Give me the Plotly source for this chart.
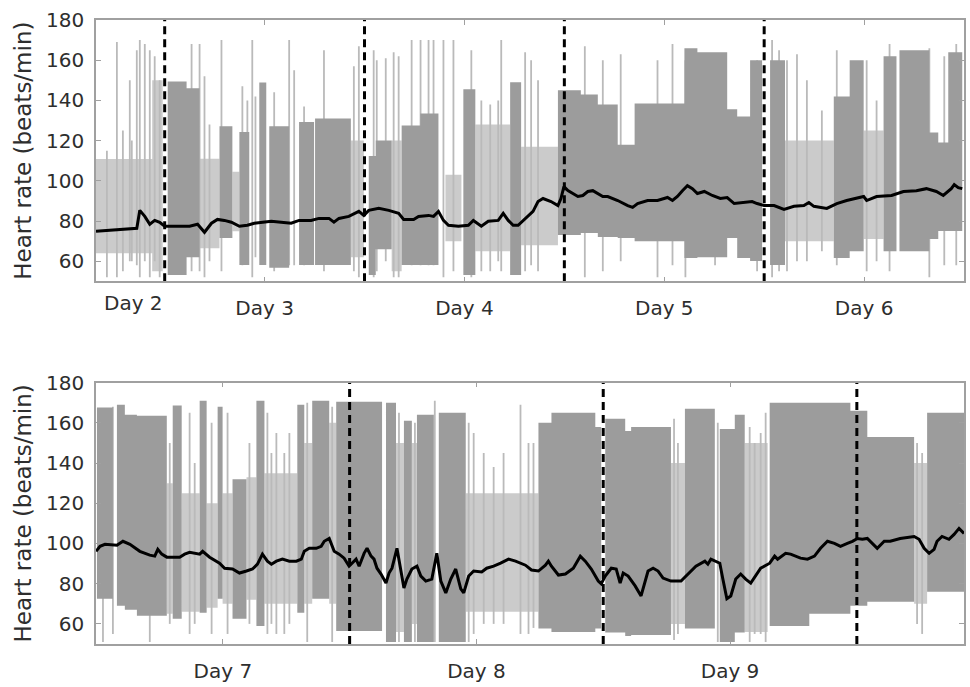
import plotly.graph_objects as go
from plotly.subplots import make_subplots

# ---------------- DATA (time in hours since start of Day 2, heart rate in beats/min) -------------
# Smoothed heart-rate trend, top panel (Days 2-6)
top_smooth_t = [15.75, 17.42, 18.62, 20.65, 21.01, 21.61, 22.21, 22.80, 23.40, 24.0, 25.2, 26.99, 27.95,
                28.78, 29.62, 30.34, 31.17, 32.01, 32.97, 33.93, 34.76, 35.96, 36.80, 37.99, 39.19, 40.14,
                41.58, 42.53, 43.73, 44.33, 44.93, 46.12, 47.32, 47.92, 48.51, 49.71, 50.91, 52.10, 52.70,
                53.90, 54.49, 55.69, 56.29, 56.88, 57.48, 58.08, 59.28, 60.47, 61.07, 62.03, 62.86, 64.06,
                64.66, 65.26, 65.85, 66.45, 67.05, 67.65, 68.24, 68.84, 69.44, 70.40, 71.23, 71.59, 71.95,
                72.43, 73.03, 73.63, 74.22, 74.82, 75.42, 76.02, 76.62, 77.21, 78.41, 79.61, 80.20, 80.80,
                82.00, 83.19, 84.39, 84.99, 85.58, 86.18, 86.78, 87.38, 87.98, 88.81, 89.77, 90.73, 91.56,
                92.40, 93.60, 94.55, 95.15, 95.99, 97.19, 98.38, 99.58, 100.77, 101.37, 101.97, 103.52,
                104.72, 105.91, 107.95, 108.31, 109.50, 111.30, 112.73, 114.28, 115.48, 116.68, 117.51,
                118.47, 118.83, 119.31, 119.79]
top_smooth_hr = [74.9, 75.4, 75.9, 76.4, 85.3, 82.3, 78.4, 80.3, 79.4, 77.4, 77.4, 77.4, 78.4,
                 74.4, 78.9, 80.8, 80.3, 79.4, 77.4, 77.9, 78.9, 79.4, 79.9, 79.4, 78.9, 80.3,
                 80.3, 81.3, 81.3, 79.4, 81.3, 82.3, 84.8, 82.8, 85.3, 86.3, 85.3, 83.8, 80.8,
                 80.8, 82.3, 82.8, 82.3, 84.8, 80.3, 77.9, 77.4, 77.9, 80.3, 77.4, 79.9, 80.3,
                 83.8, 80.3, 77.9, 77.9, 80.3, 82.3, 84.8, 89.7, 91.2, 89.7, 87.7, 91.2, 97.1,
                 95.1, 93.7, 92.2, 92.7, 94.7, 95.1, 93.7, 92.2, 92.2, 90.2, 87.7, 86.8, 88.7,
                 90.2, 90.2, 91.7, 90.2, 92.2, 95.1, 97.6, 96.1, 93.7, 94.7, 92.7, 91.2, 91.7,
                 88.7, 89.2, 89.7, 88.7, 87.7, 87.7, 85.8, 87.3, 87.7, 89.2, 87.3, 86.3,
                 88.7, 90.2, 92.2, 90.2, 92.2, 92.7, 94.7, 95.1, 96.1, 94.7, 92.7,
                 96.1, 98.1, 96.6, 96.1]

# Smoothed heart-rate trend, bottom panel (Days 7-9)
bot_smooth_t = [120.0, 120.38, 120.85, 121.98, 122.55, 123.21, 124.15, 125.09, 125.56, 125.85, 126.22,
                126.70, 127.92, 128.39, 128.86, 129.81, 130.09, 130.75, 131.69, 132.17, 132.92, 133.58,
                134.24, 134.81, 135.28, 135.75, 136.22, 136.60, 137.07, 137.64, 138.30, 138.96, 139.43,
                139.71, 140.18, 140.84, 141.31, 141.60, 142.07, 142.54, 143.01, 143.48, 143.95, 144.24,
                144.61, 144.90, 145.37, 145.65, 146.03, 146.31, 146.59, 146.97, 147.44, 147.73, 148.01,
                148.48, 148.86, 149.14, 149.42, 149.89, 150.37, 150.74, 151.21, 151.78, 152.25, 152.63,
                153.10, 153.57, 154.04, 154.52, 154.80, 155.27, 155.74, 156.50, 156.97, 157.63, 158.29,
                159.04, 159.70, 160.64, 161.21, 161.87, 162.53, 162.81, 163.10, 163.76, 164.42, 165.17,
                165.83, 166.30, 166.87, 167.53, 167.81, 168.19, 168.76, 169.23, 169.60, 169.89, 170.36,
                171.02, 171.58, 172.24, 172.72, 173.19, 173.66, 174.41, 175.36, 176.02, 176.77, 177.62,
                177.90, 178.19, 179.03, 179.32, 179.70, 180.07, 180.54, 181.01, 181.48, 181.96, 182.43,
                182.90, 183.75, 184.22, 184.50, 185.26, 185.73, 186.67, 187.33, 187.99, 188.56, 189.22,
                189.88, 190.45, 191.10, 191.58, 192.05, 192.52, 192.99, 193.46, 193.93, 194.59, 195.16,
                196.10, 197.42, 197.89, 198.37, 198.84, 199.31, 199.59, 200.06, 200.72, 201.20, 201.67,
                202.14]
bot_smooth_hr = [96.1, 98.6, 99.6, 99.1, 101.1, 99.6, 96.1, 94.2, 93.7, 97.1, 94.7,
                 93.2, 93.2, 94.7, 95.6, 94.7, 96.1, 93.2, 90.2, 87.7, 87.3, 85.3,
                 86.3, 87.3, 89.7, 94.7, 91.2, 89.7, 91.2, 92.2, 91.2, 91.2, 92.2,
                 96.1, 97.6, 97.6, 98.6, 101.1, 102.5, 96.1, 94.7, 92.7, 88.7, 90.2,
                 92.2, 88.7, 95.1, 97.6, 93.7, 92.2, 87.7, 84.8, 80.3, 85.3, 87.7,
                 97.6, 87.3, 77.9, 82.3, 87.3, 88.7, 83.8, 81.3, 82.3, 95.1, 81.3,
                 75.4, 82.3, 87.3, 77.4, 75.4, 83.8, 86.3, 85.8, 87.7, 88.7, 90.2,
                 92.2, 91.2, 89.2, 86.8, 86.3, 89.2, 91.2, 88.7, 84.3, 84.8, 87.7,
                 93.7, 91.2, 87.3, 81.3, 79.9, 83.8, 87.7, 87.3, 80.3, 85.3, 83.8,
                 78.9, 73.9, 86.3, 87.7, 86.3, 82.8, 81.3, 81.3, 84.8, 88.7, 91.2,
                 89.7, 92.2, 90.2, 82.3, 72.5, 73.9, 82.3, 84.8, 82.3, 80.3, 83.8,
                 87.7, 90.2, 93.7, 92.2, 95.1, 94.7, 92.7, 92.2, 93.7, 97.6, 101.1,
                 100.1, 98.6, 100.1, 101.1, 102.5, 102.1, 102.5, 100.1, 97.6, 101.1, 101.1,
                 102.5, 103.5, 102.1, 97.6, 95.1, 97.1, 101.1, 103.5, 102.1, 104.5, 107.5,
                 105.0]

# Raw beat-to-beat heart rate: dense recording stretches (start h, end h, max bpm, min bpm)
top_dense = [(24.36, 26.63, 149.4, 53.2), (26.63, 28.19, 146.0, 62.0), (30.58, 32.13, 127.2, 71.5),
             (32.97, 34.16, 124.3, 58.1), (35.36, 36.20, 148.9, 58.1), (36.56, 38.95, 127.2, 56.7),
             (40.14, 41.94, 129.2, 58.1), (42.06, 46.36, 131.0, 58.1), (48.51, 49.35, 112.4, 53.2),
             (49.35, 51.26, 120.0, 66.0), (52.46, 54.70, 127.5, 58.1), (54.70, 56.88, 133.5, 58.1),
             (59.87, 61.31, 145.5, 53.2), (65.49, 66.81, 149.0, 53.2), (71.23, 73.98, 145.0, 73.0),
             (73.98, 76.02, 143.0, 74.0), (76.02, 78.41, 138.0, 72.0), (78.41, 80.44, 118.0, 71.5),
             (80.44, 86.42, 138.5, 70.0), (86.42, 87.98, 166.0, 61.6), (87.98, 91.56, 164.0, 62.0),
             (91.56, 92.76, 135.6, 71.5), (92.76, 94.31, 132.0, 61.6), (94.31, 95.75, 160.0, 60.1),
             (96.71, 98.50, 160.0, 58.1), (104.36, 106.27, 142.0, 61.6), (106.27, 107.95, 160.0, 65.0),
             (110.34, 111.89, 162.0, 65.0), (112.25, 115.84, 165.0, 65.0), (115.84, 116.91, 124.0, 71.0),
             (116.91, 118.11, 119.0, 75.0), (118.11, 119.79, 164.0, 75.0)]

# Sparse stretches (start h, end h, max bpm, min bpm)
top_sparse = [(15.75, 22.5, 110.9, 64.0), (22.5, 23.76, 150.0, 55.0), (28.19, 30.58, 111.0, 66.5),
              (32.13, 32.97, 104.5, 74.9), (46.36, 47.92, 120.0, 62.0), (51.26, 52.46, 120.0, 55.0),
              (57.72, 59.64, 103.0, 70.0), (61.31, 65.49, 128.0, 65.0), (66.81, 71.23, 117.0, 68.0),
              (98.50, 104.36, 120.0, 70.0), (107.95, 110.34, 125.0, 71.0)]

# Isolated excursions (time h, min bpm, max bpm)
top_spikes = [(17.06, 52, 115), (18.26, 52, 169), (18.98, 55, 125), (19.81, 60, 150), (20.05, 60, 120),
              (20.65, 58, 165), (21.01, 52, 170), (21.61, 60, 168), (22.21, 52, 165), (22.80, 60, 162),
              (23.40, 52, 150), (27.23, 55, 168), (28.19, 55, 168), (28.78, 52, 152), (29.38, 60, 128),
              (30.82, 55, 170), (33.33, 58, 147), (33.93, 60, 140), (34.52, 52, 170), (34.90, 62, 142),
              (37.15, 55, 144), (38.95, 58, 170), (39.55, 58, 155), (40.74, 58, 137), (43.13, 55, 165),
              (46.72, 55, 157), (47.32, 52, 167), (49.10, 52, 165), (49.47, 55, 160), (50.55, 60, 161),
              (51.50, 52, 164), (52.10, 52, 162), (53.66, 58, 170), (54.73, 58, 170), (55.69, 58, 170),
              (56.29, 58, 170), (57.48, 52, 170), (58.68, 55, 170), (60.83, 52, 165), (62.03, 55, 140),
              (63.10, 55, 138), (64.06, 60, 140), (64.42, 55, 170), (67.29, 55, 164), (68.01, 58, 160),
              (68.84, 55, 150), (74.46, 52, 167), (76.62, 55, 160), (78.77, 60, 163), (83.19, 52, 160),
              (84.99, 58, 168), (86.54, 52, 160), (90.10, 58, 155), (95.15, 55, 160), (96.95, 52, 170),
              (97.79, 55, 165), (98.74, 55, 160), (99.94, 60, 163), (101.13, 60, 150), (102.93, 65, 135),
              (104.72, 58, 165), (108.31, 55, 160), (109.50, 60, 140), (111.06, 55, 168), (115.84, 52, 166),
              (117.63, 58, 162), (119.07, 58, 168)]

bot_dense = [(120.09, 121.60, 167.7, 72.5), (121.98, 122.73, 169.0, 69.0), (122.73, 123.87, 164.0, 67.0),
             (123.87, 126.70, 163.5, 64.0), (127.26, 128.11, 168.6, 62.6), (129.81, 130.47, 171.0, 65.5),
             (131.51, 131.98, 168.0, 72.5), (132.92, 134.24, 132.0, 62.6), (135.18, 135.94, 171.0, 59.0),
             (139.05, 139.71, 169.0, 65.5), (140.46, 142.07, 171.0, 72.5), (142.73, 147.07, 170.5, 56.5),
             (147.44, 148.39, 170.0, 51.0), (149.14, 149.89, 161.0, 51.0), (150.37, 151.97, 164.0, 51.0),
             (152.44, 154.99, 165.0, 51.0), (161.87, 163.10, 160.0, 57.7), (163.10, 167.25, 165.0, 56.0),
             (167.25, 167.81, 158.0, 57.7), (168.19, 170.08, 162.0, 55.7), (170.08, 170.64, 156.0, 54.0),
             (170.64, 174.41, 158.0, 54.5), (175.73, 178.56, 167.0, 57.7), (179.03, 180.45, 157.0, 51.0),
             (180.45, 181.39, 164.0, 55.7), (183.75, 187.5, 170.0, 59.0), (187.5, 191.39, 170.0, 65.0),
             (191.39, 192.99, 166.0, 69.0), (192.99, 197.42, 153.0, 71.0), (198.65, 202.14, 165.0, 76.0)]

bot_sparse = [(126.70, 127.26, 130.0, 65.0), (128.11, 129.81, 125.0, 66.0), (130.47, 131.51, 120.0, 68.0),
              (131.98, 132.92, 125.0, 70.0), (134.24, 135.18, 133.0, 72.0), (135.94, 139.05, 135.0, 70.0),
              (139.71, 140.46, 150.0, 70.0), (142.07, 142.73, 160.0, 70.0), (148.39, 149.14, 150.0, 56.0),
              (149.89, 150.37, 150.0, 60.0), (154.99, 161.87, 125.0, 66.0), (174.41, 175.73, 140.0, 60.0),
              (181.39, 183.56, 150.0, 56.0), (197.42, 198.65, 140.0, 70.0)]

bot_spikes = [(120.66, 51, 165), (121.60, 55, 168), (125.09, 51, 160), (126.98, 60, 150), (128.86, 55, 165),
              (129.34, 60, 140), (130.94, 55, 160), (132.45, 55, 165), (134.52, 60, 150), (136.22, 55, 165),
              (136.60, 60, 145), (137.07, 55, 155), (137.82, 55, 145), (138.30, 60, 155), (139.99, 51, 170),
              (142.35, 51, 168), (148.67, 51, 165), (150.18, 51, 160), (152.06, 51, 171), (155.27, 51, 160),
              (155.74, 55, 155), (156.69, 60, 145), (157.63, 60, 138), (158.57, 60, 145), (160.17, 55, 169),
              (160.93, 55, 150), (161.40, 58, 150), (174.70, 52, 162), (175.07, 55, 150), (178.84, 51, 160),
              (181.86, 51, 158), (182.33, 55, 150), (182.90, 55, 155), (183.37, 51, 165), (197.70, 60, 150),
              (198.18, 55, 145)]

# Day boundaries (midnight) and day labels (noon)
top_day_bounds = [24, 48, 72, 96]
bot_day_bounds = [144, 168, 192]
top_tick_vals = [36, 60, 84, 108]
top_tick_text = ["Day 3", "Day 4", "Day 5", "Day 6"]
top_first_label_t = 20.2
top_first_label = "Day 2"
bot_tick_vals = [132, 156, 180]
bot_tick_text = ["Day 7", "Day 8", "Day 9"]
top_range = [15.75, 120.0]
bot_range = [120.0, 202.14]
hr_range = [50, 180]
hr_ticks = [60, 80, 100, 120, 140, 160, 180]

# ---------------- FIGURE ----------------
DARK = "#9c9c9c"
SPARSE = "#cbcbcb"
SPIKE = "#bababa"
FONT = "DejaVu Sans"
TXT = "#2e2e2e"


def blocks_xy(blocks):
    xs, ys = [], []
    for t0, t1, hi, lo in blocks:
        xs += [t0, t1, t1, t0, t0, None]
        ys += [lo, lo, hi, hi, lo, None]
    return xs, ys


def spikes_xy(spikes):
    xs, ys = [], []
    for t, lo, hi in spikes:
        xs += [t, t, None]
        ys += [lo, hi, None]
    return xs, ys


def bounds_xy(bounds):
    xs, ys = [], []
    for b in bounds:
        xs += [b, b, None]
        ys += [hr_range[0], hr_range[1], None]
    return xs, ys


fig = make_subplots(rows=2, cols=1)

panels = [
    (1, top_sparse, top_spikes, top_dense, top_day_bounds, top_smooth_t, top_smooth_hr),
    (2, bot_sparse, bot_spikes, bot_dense, bot_day_bounds, bot_smooth_t, bot_smooth_hr),
]
for row, sparse, spikes, dense, bounds, st, shr in panels:
    x, y = blocks_xy(sparse)
    fig.add_trace(go.Scatter(x=x, y=y, mode="lines", fill="toself", fillcolor=SPARSE,
                             line=dict(width=0, color=SPARSE), hoverinfo="skip"), row=row, col=1)
    x, y = spikes_xy(spikes)
    fig.add_trace(go.Scatter(x=x, y=y, mode="lines", line=dict(width=1.8, color=SPIKE),
                             hoverinfo="skip"), row=row, col=1)
    x, y = blocks_xy(dense)
    fig.add_trace(go.Scatter(x=x, y=y, mode="lines", fill="toself", fillcolor=DARK,
                             line=dict(width=0, color=DARK), hoverinfo="skip"), row=row, col=1)
    x, y = bounds_xy(bounds)
    fig.add_trace(go.Scatter(x=x, y=y, mode="lines",
                             line=dict(width=3, color="black", dash="8px,5px"),
                             hoverinfo="skip"), row=row, col=1)
    fig.add_trace(go.Scatter(x=st, y=shr, mode="lines", line=dict(width=3, color="black"),
                             hoverinfo="skip"), row=row, col=1)

axis_common = dict(showline=True, linecolor="#a0a0a0", linewidth=1.5, mirror="ticks",
                   ticks="inside", ticklen=5, tickcolor="#a0a0a0", showgrid=False,
                   zeroline=False, tickfont=dict(family=FONT, size=20, color=TXT))

fig.update_xaxes(**axis_common)
fig.update_yaxes(**axis_common)

fig.update_xaxes(range=top_range, tickvals=top_tick_vals, ticktext=top_tick_text,
                 ticklabelstandoff=8, row=1, col=1)
fig.update_xaxes(range=bot_range, tickvals=bot_tick_vals, ticktext=bot_tick_text,
                 ticklabelstandoff=8, row=2, col=1)
for r in (1, 2):
    fig.update_yaxes(range=hr_range, tickvals=hr_ticks, ticklabelstandoff=6,
                     title=dict(text="Heart rate (beats/min)", standoff=8,
                                font=dict(family=FONT, size=23, color=TXT)),
                     row=r, col=1)

fig.update_layout(
    width=970, height=687,
    margin=dict(l=96, r=4, t=20, b=39),
    showlegend=False,
    plot_bgcolor="white", paper_bgcolor="white",
    xaxis=dict(domain=[0, 1]), yaxis=dict(domain=[0.5812, 1.0]),
    xaxis2=dict(domain=[0, 1]), yaxis2=dict(domain=[0.0, 0.4188]),
    annotations=[dict(x=top_first_label_t, y=0, xref="x", yref="y domain", yanchor="top",
                      yshift=-8, text=top_first_label, showarrow=False,
                      font=dict(family=FONT, size=20, color=TXT))],
)

fig.write_html("out.html")
